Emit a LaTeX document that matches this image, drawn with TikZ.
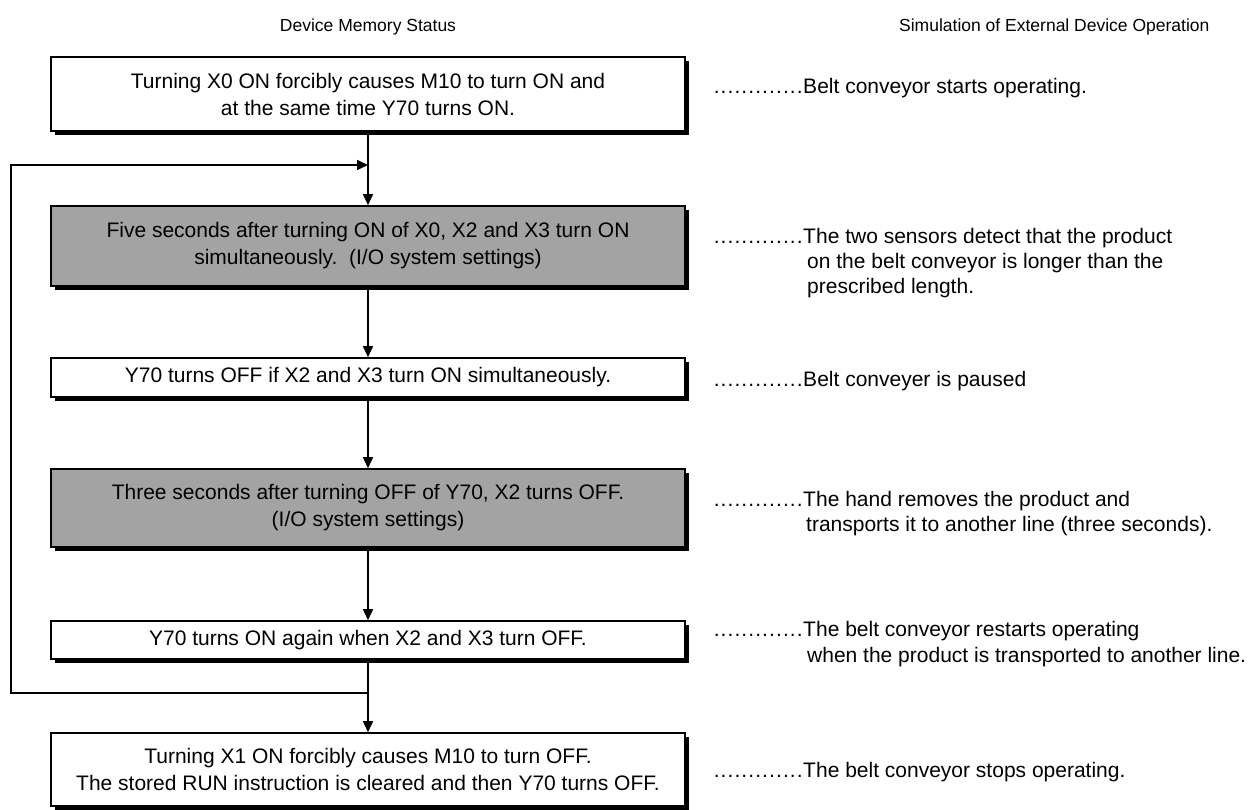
\documentclass[tikz,border=0pt]{standalone}
\usepackage{fontspec}
\setmainfont{Liberation Sans}
\usetikzlibrary{arrows.meta,positioning,shadows}
\newcommand{\dotlead}{\hbox to 90pt{\xleaders\hbox to 6.9pt{\hss.\hss}\hfill}}
\tikzset{
  stepbox/.style={draw=black, line width=1.6pt, fill=white, minimum width=634pt, inner sep=0pt, align=center, font=\fontsize{21}{27}\selectfont, drop shadow={shadow xshift=4pt, shadow yshift=-4pt, opacity=1, fill=black}},
  iobox/.style={stepbox, fill=black!36},
  flow/.style={-{Triangle[length=11pt,width=10pt]}, line width=1.6pt},
  note/.style={anchor=base west, align=left, inner sep=0pt, font=\fontsize{21}{25.5}\selectfont},
  head/.style={font=\fontsize{17.5}{21}\selectfont}
}

\begin{document}
\begin{tikzpicture}[x=1pt, y=-1pt]
  \useasboundingbox (0,0) rectangle (1260,810);
  \node[head] (memhead) at (368,27) {Device Memory Status};
  \node[head, anchor=east] (simhead) at (1213,27) {Simulation of External Device Operation};

  \node[stepbox, minimum height=74pt] (start) at (368,94) {Turning X0 ON forcibly causes M10 to turn ON and\\at the same time Y70 turns ON.};
  \node[iobox, minimum height=80pt] (detect) at (368,246) {Five seconds after turning ON of X0, X2 and X3 turn ON\\simultaneously.\ \ (I/O system settings)};
  \node[stepbox, minimum height=39pt] (pause) at (368,377.5) {Y70 turns OFF if X2 and X3 turn ON simultaneously.};
  \node[iobox, minimum height=78pt] (remove) at (368,508) {Three seconds after turning OFF of Y70, X2 turns OFF.\\(I/O system settings)};
  \node[stepbox, minimum height=38pt] (restart) at (368,640) {Y70 turns ON again when X2 and X3 turn OFF.};
  \node[stepbox, minimum height=73pt] (stop) at (368,769.5) {Turning X1 ON forcibly causes M10 to turn OFF.\\The stored RUN instruction is cleared and then Y70 turns OFF.};

  % multi-line notes are anchored on their last baseline
  \node[note] (nstart) at (803,94) {\llap{\dotlead}Belt conveyor starts operating.};
  \node[note] (ndetect) at (803,294) {\llap{\dotlead}The two sensors detect that the product\\\hspace*{4pt}on the belt conveyor is longer than the\\\hspace*{4pt}prescribed length.};
  \node[note] (npause) at (803,386) {\llap{\dotlead}Belt conveyer is paused};
  \node[note] (nremove) at (803,531.5) {\llap{\dotlead}The hand removes the product and\\\hspace*{3pt}transports it to another line (three seconds).};
  \node[note] (nrestart) at (803,662) {\llap{\dotlead}The belt conveyor restarts operating\\\hspace*{4pt}when the product is transported to another line.};
  \node[note] (nstop) at (803,777) {\llap{\dotlead}The belt conveyor stops operating.};

  \coordinate (merge) at (368,165);
  \coordinate (split) at (368,693);
  \draw[flow] (start) -- (detect);
  \draw[flow] (detect) -- (pause);
  \draw[flow] (pause) -- (remove);
  \draw[flow] (remove) -- (restart);
  \draw[flow] (restart) -- (stop);
  \draw[flow] (split) -- ++(-357,0) |- (merge);
\end{tikzpicture}
\end{document}
